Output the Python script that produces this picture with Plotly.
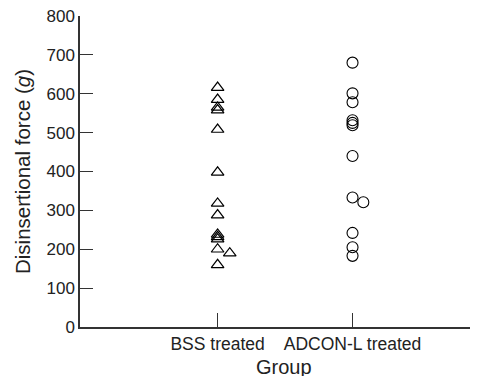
import plotly.graph_objects as go

groups = ["BSS treated", "ADCON-L treated"]
bss_values = [616, 585, 565, 558, 508, 398, 318, 288, 238, 232, 226, 200, 160]
bss_offset_values = [190]
adcon_values = [680, 601, 578, 532, 525, 519, 440, 333, 242, 205, 183]
adcon_offset_values = [321]

bss_x = [1] * len(bss_values)
bss_off_x = [1.09] * len(bss_offset_values)
adcon_x = [2] * len(adcon_values)
adcon_off_x = [2.08] * len(adcon_offset_values)

font = "Liberation Sans, Arial, sans-serif"
# page body has an 8px margin, so figure coords = reference coords - 8
OFF = 8
W, H = 478 - OFF, 376 - OFF
L, T = 80 - OFF, 16 - OFF
B = H - (327 - OFF)
R = 0
pw, ph = W - L - R, H - T - B

def px_x(xref_px):
    return (xref_px - OFF - L) / pw

def px_y(yref_px):
    return (H - B - (yref_px - OFF)) / ph

fig = go.Figure()
tri = dict(symbol="triangle-up-open", size=11, color="black", line=dict(width=1.2, color="black"))
circ = dict(symbol="circle-open", size=11, color="black", line=dict(width=1.1, color="#222"))
fig.add_trace(go.Scatter(x=bss_x + bss_off_x, y=bss_values + bss_offset_values, mode="markers", marker=tri, cliponaxis=False))
fig.add_trace(go.Scatter(x=adcon_x + adcon_off_x, y=adcon_values + adcon_offset_values, mode="markers", marker=circ, cliponaxis=False))

fig.update_layout(
    width=W, height=H,
    margin=dict(l=L, r=R, t=T, b=B),
    plot_bgcolor="white", paper_bgcolor="white",
    showlegend=False,
    font=dict(family=font, size=17, color="#222"),
    annotations=[
        dict(text="Group", xref="paper", x=px_x(284), yref="paper", y=px_y(367),
             xanchor="center", yanchor="middle", showarrow=False,
             font=dict(size=20, family=font, color="#222")),
        dict(text="Disinsertional force (<i>g</i>)", xref="paper", x=px_x(22),
             yref="paper", y=px_y(172), textangle=-90,
             xanchor="center", yanchor="middle", showarrow=False,
             font=dict(size=20.5, family=font, color="#222")),
    ],
)
fig.update_xaxes(range=[-0.02, 2.93], tickvals=[1, 2], ticktext=groups,
                 ticks="inside", ticklen=14, tickcolor="#333", tickwidth=1,
                 showline=True, linecolor="#333", linewidth=1.5, automargin=False,
                 ticklabeloverflow="allow",
                 showgrid=False, zeroline=False, tickfont=dict(size=17.5))
fig.update_yaxes(range=[0, 800], tickvals=list(range(0, 801, 100)),
                 ticks="inside", ticklen=13, tickcolor="#333", tickwidth=1,
                 showline=True, linecolor="#333", linewidth=1.5, automargin=False,
                 ticklabeloverflow="allow",
                 showgrid=False, zeroline=False, tickfont=dict(size=17))

fig.write_html("out.html")
